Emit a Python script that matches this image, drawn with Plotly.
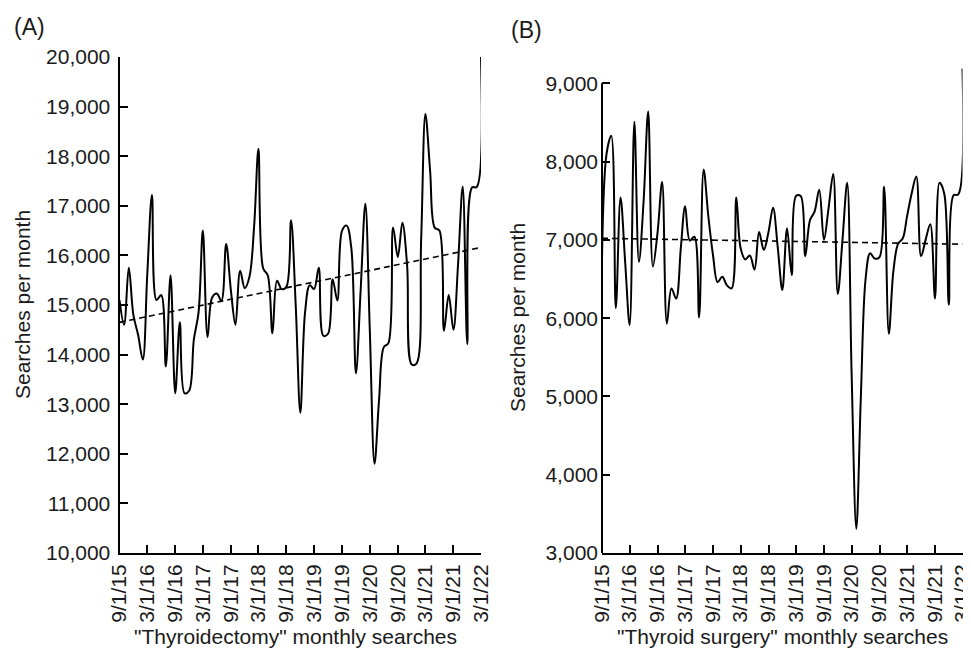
import pandas as pd
import plotly.graph_objects as go

# ---------------- data ----------------
months = pd.date_range("2015-09-01", "2022-03-01", freq="MS")

thyroidectomy = [
    15100, 14600, 15750, 14800, 14400, 13900, 15600, 17220, 15100, 15200,
    13760, 15600, 13220, 14650, 13220, 13270, 14300, 14850, 16500, 14350,
    15150, 15230, 15080, 16230, 15300, 14600, 15690, 15340, 15570, 16600,
    18150, 15740, 15600, 14430, 15490, 15320, 15370, 16710, 14970, 12830,
    14850, 15400, 15320, 15750, 14380, 14420, 15520, 15090, 16500, 16600,
    16140, 13620, 15300, 17040, 14500, 11800, 13100, 14150, 14230, 16560,
    15970, 16660, 15800, 13800, 13820, 16300, 18850, 17700, 16560, 16500,
    14480, 15200, 14500, 15800, 17390, 14210, 17370, 17380, 20000,
]

thyroid_surgery = [
    6760, 8100, 8330, 6130, 7540, 6700, 5910, 8510, 6720, 7500,
    8640, 6660, 7100, 7740, 5930, 6380, 6250, 6900, 7430, 6990,
    7040, 6010, 7900, 7300, 6800, 6460, 6530, 6420, 6380, 7540,
    6900, 6750, 6800, 6620, 7100, 6870, 7100, 7410, 6900, 6360,
    7150, 6550, 7560, 7560, 6790, 7250, 7360, 7640, 7000, 7400,
    7840, 6310, 7000, 7730, 5300, 3310, 5000, 6500, 6830, 6760,
    6780, 7680, 5800, 6600, 6950, 7020, 7300, 7600, 7810, 6790,
    7000, 7200, 6250, 7730, 7590, 6170, 7570, 7580, 9190,
]

trend_a = [14650, 16160]   # linear trend, start / end
trend_b = [7020, 6945]

tick_dates = pd.date_range("2015-09-01", "2022-03-01", freq="6MS")
tick_labels = ["9/1/15", "3/1/16", "9/1/16", "3/1/17", "9/1/17", "3/1/18", "9/1/18",
               "3/1/19", "9/1/19", "3/1/20", "9/1/20", "3/1/21", "9/1/21", "3/1/22"]

yticks_a = list(range(10000, 20001, 1000))
yticks_b = list(range(3000, 9001, 1000))

# ---------------- figure ----------------
OFF = 8                      # page body margin of the browser
W, H = 971 - OFF, 659 - OFF  # figure fits exactly into the window
FONT = "Liberation Sans, Arial, sans-serif"
INK = "#1a1a1a"

fig = go.Figure()

line_style = dict(color="black", width=2, shape="spline", smoothing=1.0)
trend_style = dict(color="black", width=1.6, dash="6px,4px")

fig.add_trace(go.Scatter(x=months, y=thyroidectomy, mode="lines", line=line_style,
                         xaxis="x", yaxis="y", showlegend=False))
fig.add_trace(go.Scatter(x=[months[0], months[-1]], y=trend_a, mode="lines", line=trend_style,
                         xaxis="x", yaxis="y", showlegend=False))
fig.add_trace(go.Scatter(x=months, y=thyroid_surgery, mode="lines", line=line_style,
                         xaxis="x2", yaxis="y2", showlegend=False))
fig.add_trace(go.Scatter(x=[months[0], months[-1]], y=trend_b, mode="lines", line=trend_style,
                         xaxis="x2", yaxis="y2", showlegend=False))

# helpers: window pixel -> paper fraction
def px_x(p):
    return (p - OFF) / W

def px_y(p):
    return (H - (p - OFF)) / H

xr = [months[0], months[-1]]
common_x = dict(type="date", range=xr, tickvals=list(tick_dates), ticktext=tick_labels,
                tickangle=-90, ticks="inside", ticklen=8, tickwidth=2, tickcolor="black",
                showline=True, linecolor="black", linewidth=2, showgrid=False, zeroline=False,
                automargin=False, ticklabelstandoff=1, ticklabeloverflow="allow",
                tickfont=dict(family=FONT, size=21, color=INK))
common_y = dict(ticks="inside", ticklen=8, tickwidth=2, tickcolor="black",
                showgrid=False, zeroline=False, tickformat=",d", automargin=False,
                ticklabelstandoff=3, ticklabeloverflow="allow",
                tickfont=dict(family=FONT, size=21, color=INK))

# panel A: y 10,000 at px 553, 20,000 at px 57
ya_dom = [px_y(553), px_y(57)]
# panel B: 3,000 at px 553, 9,000 at px 83.3 ; extend top to 9,250 so the last point is not clipped
per_k = (553 - 83.3) / 6.0
yb_top_px = 83.3 - 0.25 * per_k
yb_dom = [px_y(553), px_y(yb_top_px)]

def label(text, x, y, size=21, angle=0):
    return dict(text=text, x=px_x(x), y=px_y(y), xref="paper", yref="paper",
                xanchor="center", yanchor="middle", textangle=angle, showarrow=False,
                font=dict(family=FONT, size=size, color=INK))

fig.update_layout(
    width=W, height=H,
    margin=dict(l=0, r=0, t=0, b=0, autoexpand=False),
    paper_bgcolor="white", plot_bgcolor="white",
    font=dict(family=FONT, size=21, color=INK),
    xaxis=dict(domain=[px_x(119.5), px_x(481)], anchor="y", **common_x),
    yaxis=dict(domain=ya_dom, anchor="x", range=[10000, 20000], tickvals=yticks_a,
               showline=True, linecolor="black", linewidth=2, **common_y),
    xaxis2=dict(domain=[px_x(602), px_x(962.5)], anchor="y2", **common_x),
    yaxis2=dict(domain=yb_dom, anchor="x2", range=[3000, 9250], tickvals=yticks_b,
                showline=False, **common_y),
    shapes=[dict(type="line", xref="x2 domain", yref="y2", x0=0, x1=0, y0=3000, y1=9000,
                 line=dict(color="black", width=2))],
    annotations=[
        label("(A)", 29, 27, size=23),
        label("(B)", 526, 30, size=23),
        label("Searches per month", 22, 305, angle=-90),
        label("Searches per month", 517, 318, angle=-90),
        label("\"Thyroidectomy\" monthly searches", 295, 636),
        label("\"Thyroid surgery\" monthly searches", 782, 636),
    ],
)

fig.write_html("out.html")
